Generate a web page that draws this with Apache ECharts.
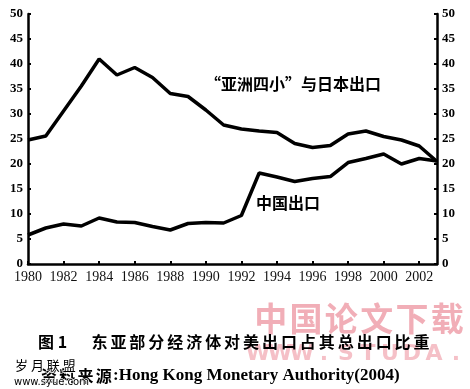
<!DOCTYPE html>
<html>
<head>
<meta charset="utf-8">
<script src="https://cdn.jsdelivr.net/npm/echarts@6/dist/echarts.min.js"></script>
<style>
html,body{margin:0;padding:0;background:#fff;}
#chart{width:470px;height:389px;}
</style>
</head>
<body>
<div id="chart"></div>
<script>
var years = [1980,1981,1982,1983,1984,1985,1986,1987,1988,1989,1990,1991,1992,1993,1994,1995,1996,1997,1998,1999,2000,2001,2002,2003];
var asiaJapan = [24.8,25.6,30.6,35.6,41.0,37.8,39.3,37.3,34.1,33.5,30.8,27.8,27.0,26.6,26.3,24.1,23.3,23.7,26.0,26.6,25.5,24.8,23.6,20.5];
var china = [5.8,7.2,8.0,7.6,9.2,8.4,8.3,7.5,6.8,8.1,8.3,8.2,9.7,18.2,17.4,16.5,17.1,17.5,20.3,21.1,22.0,20.0,21.1,20.6];
var yTicks = [0,5,10,15,20,25,30,35,40,45,50];
var seriesNames = ['“亚洲四小”与日本出口','中国出口'];
var titleText = '东亚部分经济体对美出口占其总出口比重';
var figText = '图 1';
var sourceCn = '资料来源';
var sourceEn = ':Hong Kong Monetary Authority(2004)';
var watermark1 = '中国论文下载';
var watermark2 = 'WWW.STUDA.';

function pairs(vals){ return years.map(function(y,i){ return [y, vals[i]]; }); }

// place each character of a string evenly between x0 and x1 (centers), as real text
function spread(str, x0, x1, yc, font, fill, z, extra){
  var chars = Array.from(str);
  var n = chars.length;
  var pitch = (x1 - x0) / n;
  return chars.map(function(ch, i){
    var st = Object.assign({text:ch, fill:fill, font:font, align:'center', verticalAlign:'middle'}, extra||{});
    return {type:'text', x: x0 + pitch*(i+0.5), y: yc, style: st, z: z||5};
  });
}

var chart = echarts.init(document.getElementById('chart'), null, {renderer:'canvas'});
var yAxisCommon = {
  type:'value', min:yTicks[0], max:yTicks[yTicks.length-1], interval:5,
  axisLine:{show:true, lineStyle:{color:'#000', width:2.5}},
  axisTick:{show:true, inside:true, length:3, lineStyle:{color:'#000', width:2}},
  splitLine:{show:false},
  axisLabel:{color:'#000', fontFamily:'Liberation Serif', fontWeight:'bold', fontSize:13, margin:5}
};

var graphics = [];
graphics = graphics.concat(spread(watermark1, 253, 465, 318, 'bold 33px "Noto Sans CJK SC"', 'rgba(232,120,135,0.6)', 0));
graphics = graphics.concat(spread(watermark2, 247, 467, 354, 'bold 22px "DejaVu Sans"', 'rgba(238,150,162,0.6)', 0));
graphics.push({type:'text', x:205, y:84, style:{text:seriesNames[0], fill:'#000', font:'bold 16px "Noto Sans CJK SC"', verticalAlign:'middle'}, z:5});
graphics.push({type:'text', x:256, y:203, style:{text:seriesNames[1], fill:'#000', font:'bold 16px "Noto Sans CJK SC"', verticalAlign:'middle'}, z:5});
graphics.push({type:'text', x:38, y:342, style:{text:figText, fill:'#000', font:'bold 16px "Noto Sans CJK SC"', verticalAlign:'middle'}, z:5});
graphics = graphics.concat(spread(titleText, 90, 431, 342, 'bold 16px "Noto Sans CJK SC"', '#000', 5));
graphics = graphics.concat(spread(sourceCn, 40, 113, 376, 'bold 16px "Noto Sans CJK SC"', '#000', 5));
graphics.push({type:'text', x:113, y:376, style:{text:sourceEn, fill:'#000', font:'bold 17px "Liberation Serif"', verticalAlign:'middle'}, z:5});
graphics.push({type:'text', x:15, y:365, style:{text:'岁 月 联 盟', fill:'#000', stroke:'#fff', lineWidth:1.5, font:'13px "Noto Sans CJK SC"', verticalAlign:'middle'}, z:6});
graphics.push({type:'text', x:14, y:382, style:{text:'www.syue.com', fill:'#000', stroke:'#fff', lineWidth:1.5, font:'10px "DejaVu Sans"', verticalAlign:'middle'}, z:6});

chart.setOption({
  animation:false,
  backgroundColor:'#fff',
  grid:{left:28, right:33, top:14, bottom:125, containLabel:false},
  xAxis:{
    type:'value', min:1980, max:2003, interval:2,
    axisLine:{show:true, onZero:false, lineStyle:{color:'#000', width:2.5}},
    axisTick:{show:true, inside:true, length:3, lineStyle:{color:'#000', width:2}},
    splitLine:{show:false},
    axisLabel:{color:'#111', fontFamily:'Liberation Serif', fontSize:14, margin:6, showMaxLabel:false,
      formatter:function(v){ return (v % 2 === 0) ? String(v) : ''; }}
  },
  yAxis:[
    Object.assign({}, yAxisCommon, {position:'left'}),
    Object.assign({}, yAxisCommon, {position:'right'})
  ],
  series:[
    {name:seriesNames[0], type:'line', data:pairs(asiaJapan), showSymbol:false, symbol:'none',
     lineStyle:{color:'#000', width:3.5}, z:3},
    {name:seriesNames[1], type:'line', data:pairs(china), showSymbol:false, symbol:'none',
     lineStyle:{color:'#000', width:3.5}, z:3}
  ],
  graphic:graphics
});
</script>
</body>
</html>
